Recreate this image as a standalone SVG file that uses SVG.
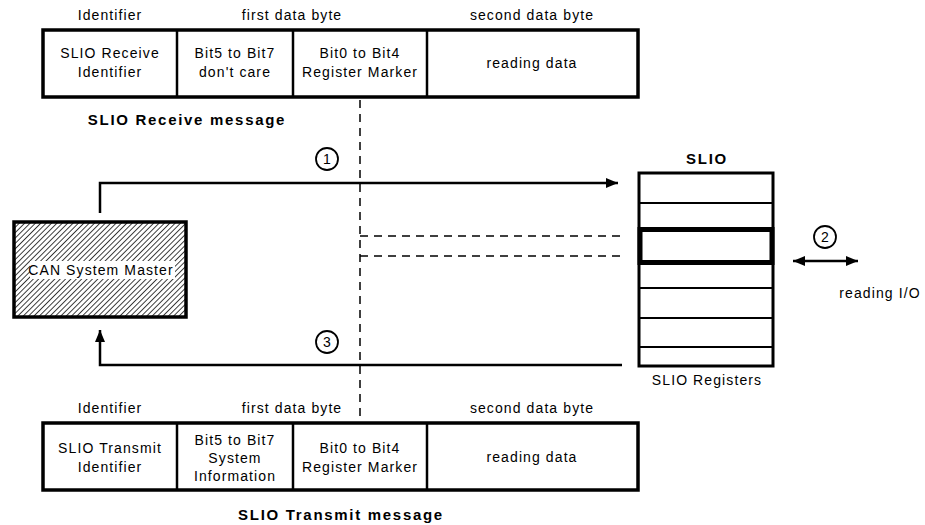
<svg xmlns="http://www.w3.org/2000/svg" width="925" height="525" viewBox="0 0 925 525">
<style>
  .t { font-family: "Liberation Sans", Arial, sans-serif; font-size: 14px; letter-spacing: 1.1px; fill: #000; text-anchor: middle; }
  .b { font-family: "Liberation Sans", Arial, sans-serif; font-size: 15px; font-weight: bold; letter-spacing: 1.7px; fill: #000; text-anchor: middle; }
  .outer { fill: #fff; stroke: #000; stroke-width: 3.5; }
  .div { stroke: #000; stroke-width: 2.5; }
  .conn { fill: none; stroke: #000; stroke-width: 2.5; }
  .dash { fill: none; stroke: #000; stroke-width: 1.5; stroke-dasharray: 8 6; }
  .circ { fill: #fff; stroke: #000; stroke-width: 1.8; }
  .reg { stroke: #000; stroke-width: 2; }
</style>
<defs>
  <pattern id="hatch" patternUnits="userSpaceOnUse" width="3.8" height="3.8" patternTransform="rotate(45)">
    <rect width="3.8" height="3.8" fill="#fff"/>
    <line x1="0" y1="0" x2="0" y2="3.8" stroke="#000" stroke-width="1.5"/>
  </pattern>
  <marker id="ah" viewBox="0 0 12 10" refX="12" refY="5" markerWidth="12" markerHeight="10" markerUnits="userSpaceOnUse" orient="auto-start-reverse">
    <path d="M0,0 L12,5 L0,10 Z" fill="#000"/>
  </marker>
</defs>

<g id="receive-message">
  <text class="t" x="110" y="20">Identifier</text>
  <text class="t" x="292" y="20">first data byte</text>
  <text class="t" x="532" y="20">second data byte</text>
  <rect class="outer" x="43" y="30" width="595" height="67"/>
  <line class="div" x1="177" y1="30" x2="177" y2="97"/>
  <line class="div" x1="293" y1="30" x2="293" y2="97"/>
  <line class="div" x1="427" y1="30" x2="427" y2="97"/>
  <text class="t" x="110" y="58">SLIO Receive</text>
  <text class="t" x="110" y="77">Identifier</text>
  <text class="t" x="235" y="58">Bit5 to Bit7</text>
  <text class="t" x="235" y="77">don't care</text>
  <text class="t" x="360" y="58">Bit0 to Bit4</text>
  <text class="t" x="360" y="77">Register Marker</text>
  <text class="t" x="532" y="68">reading data</text>
  <text class="b" x="187" y="125">SLIO Receive message</text>
</g>

<g id="transmit-message">
  <text class="t" x="110" y="413">Identifier</text>
  <text class="t" x="292" y="413">first data byte</text>
  <text class="t" x="532" y="413">second data byte</text>
  <rect class="outer" x="43" y="423" width="595" height="67"/>
  <line class="div" x1="177" y1="423" x2="177" y2="490"/>
  <line class="div" x1="293" y1="423" x2="293" y2="490"/>
  <line class="div" x1="427" y1="423" x2="427" y2="490"/>
  <text class="t" x="110" y="453">SLIO Transmit</text>
  <text class="t" x="110" y="472">Identifier</text>
  <text class="t" x="235" y="445">Bit5 to Bit7</text>
  <text class="t" x="235" y="463">System</text>
  <text class="t" x="235" y="481">Information</text>
  <text class="t" x="360" y="453">Bit0 to Bit4</text>
  <text class="t" x="360" y="472">Register Marker</text>
  <text class="t" x="532" y="462">reading data</text>
  <text class="b" x="341" y="520">SLIO Transmit message</text>
</g>

<g id="can-master">
  <rect x="14" y="222" width="172" height="95" fill="url(#hatch)" stroke="#000" stroke-width="3.5"/>
  <rect x="30" y="261" width="145" height="18" fill="#fff"/>
  <text class="t" x="101" y="275">CAN System Master</text>
</g>

<g id="slio">
  <text class="b" x="707" y="164">SLIO</text>
  <rect x="639" y="173" width="134" height="193" fill="#fff" stroke="#000" stroke-width="3"/>
  <line class="reg" x1="639" y1="203" x2="773" y2="203"/>
  <line class="reg" x1="639" y1="288" x2="773" y2="288"/>
  <line class="reg" x1="639" y1="318" x2="773" y2="318"/>
  <line class="reg" x1="639" y1="347" x2="773" y2="347"/>
  <rect x="640" y="229.5" width="132" height="33" fill="#fff" stroke="#000" stroke-width="5"/>
  <text class="t" x="707" y="385">SLIO Registers</text>
</g>

<g id="connectors">
  <line class="dash" x1="360" y1="100" x2="360" y2="416"/>
  <line class="dash" x1="360" y1="236" x2="622" y2="236"/>
  <line class="dash" x1="360" y1="256" x2="622" y2="256"/>
  <path class="conn" d="M100,213 V183 H618" marker-end="url(#ah)"/>
  <path class="conn" d="M622,365 H100 V330" marker-end="url(#ah)"/>
  <line class="conn" x1="793" y1="261" x2="858" y2="261" marker-start="url(#ah)" marker-end="url(#ah)"/>
</g>

<g id="labels">
  <circle class="circ" cx="327" cy="159" r="11"/>
  <text class="t" x="327" y="164" style="letter-spacing:0">1</text>
  <circle class="circ" cx="825" cy="237" r="11"/>
  <text class="t" x="825" y="242" style="letter-spacing:0">2</text>
  <circle class="circ" cx="327" cy="342" r="11"/>
  <text class="t" x="327" y="347" style="letter-spacing:0">3</text>
  <text class="t" x="880" y="298">reading I/O</text>
</g>
</svg>
